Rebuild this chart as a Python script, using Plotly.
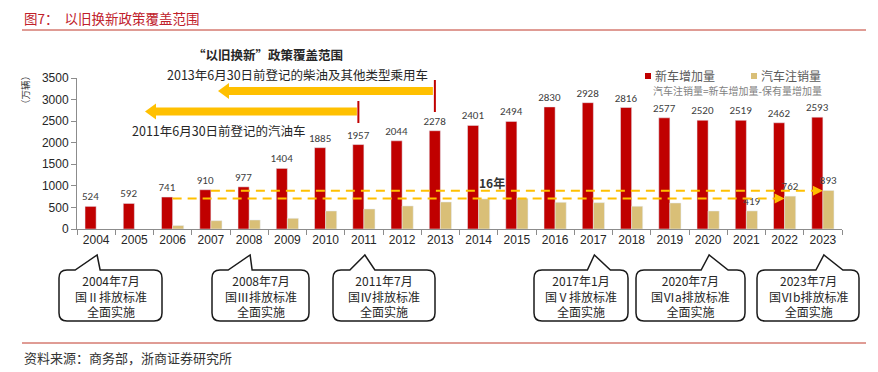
import plotly.graph_objects as go

# ---------------- data ----------------
years = [str(y) for y in range(2004, 2024)]
new_cars = [524, 592, 741, 910, 977, 1404, 1885, 1957, 2044, 2278,
            2401, 2494, 2830, 2928, 2816, 2577, 2520, 2519, 2462, 2593]
scrapped = [None, None, 80, 193, 209, 248, 418, 464, 534, 626,
            697, 712, 619, 611, 527, 603, 418, 419, 762, 893]
scrapped_labelled = ["2021", "2022", "2023"]
y_ticks = [0, 500, 1000, 1500, 2000, 2500, 3000, 3500]

# 16-year dashed guides: (start year, end year, level)
guides = [("2006", "2022", 705), ("2007", "2023", 885)]

# emission-standard callouts: (year, line1, line2, line3)
callouts = [
    ("2004", "2004年7月", "国Ⅱ排放标准", "全面实施"),
    ("2008", "2008年7月", "国Ⅲ排放标准", "全面实施"),
    ("2011", "2011年7月", "国Ⅳ排放标准", "全面实施"),
    ("2017", "2017年1月", "国Ⅴ排放标准", "全面实施"),
    ("2020", "2020年7月", "国Ⅵa排放标准", "全面实施"),
    ("2023", "2023年7月", "国Ⅵb排放标准", "全面实施"),
]

RED = "#C00000"
TAN = "#D9BF77"
ORANGE = "#FFC000"
CJK = "Noto Sans CJK SC"
NUM = "Liberation Sans, Arial"

# ---------------- geometry (viewport pixels) ----------------
VW, VH = 878, 372
BODY = 8                      # default page margin around the plot div
W, H = VW - BODY, VH - BODY   # figure size so it fills the window exactly
PL, PR, PT, PB = 77, 842, 78, 229   # plot area in viewport pixels
L, R, T, B = PL - BODY, VW - PR, PT - BODY, VH - PB
PW, PH = PR - PL, PB - PT


def X(px):
    return (px - PL) / PW


def Y(py):
    return (PB - py) / PH


def cx(i):
    return PL + (i + 0.5) * PW / len(years)


def ann(px, py, text, size, color, family=CJK, xanchor="center", **kw):
    return dict(x=X(px), y=Y(py), xref="paper", yref="paper", xanchor=xanchor,
                yanchor="middle", showarrow=False, text=text,
                font=dict(size=size, color=color, family=family), **kw)


fig = go.Figure()

fig.add_trace(go.Bar(
    x=years, y=new_cars, name="新车增加量", marker_color=RED,
    text=[str(v) for v in new_cars], textposition="outside",
    constraintext="none", textangle=0, cliponaxis=False,
    textfont=dict(size=11, color="#404040", family="Carlito, Lato, sans-serif"),
))
fig.add_trace(go.Bar(
    x=years, y=scrapped, name="汽车注销量", marker_color=TAN,
    text=[str(v) if (y in scrapped_labelled and v is not None) else "" for y, v in zip(years, scrapped)],
    textposition="outside", constraintext="none", textangle=0, cliponaxis=False,
    textfont=dict(size=11, color="#404040", family="Carlito, Lato, sans-serif"),
))

shapes = []
annotations = []

# dashed 16-year guides with arrow heads
for y0, y1, lvl in guides:
    i0, i1 = years.index(y0), years.index(y1)
    shapes.append(dict(type="line", xref="x", yref="y", x0=i0, x1=i1 - 0.15, y0=lvl, y1=lvl,
                       line=dict(color=ORANGE, width=2, dash="9px,6px"), layer="above"))
    annotations.append(dict(x=i1, y=lvl, ax=i1 - 0.2, ay=lvl, xref="x", yref="y",
                            axref="x", ayref="y", text="", showarrow=True, arrowhead=2,
                            arrowsize=1, arrowwidth=2, arrowcolor=ORANGE))
annotations.append(dict(x=10.35, y=1075, xref="x", yref="y", text="<b>16年</b>", showarrow=False,
                        xanchor="center", yanchor="middle",
                        font=dict(size=12, color="#333333", family=CJK)))


# big yellow policy arrows
def big_arrow(tip, end, yc, head=11, half=4, hh=8):
    b = tip + head
    return ("M {0},{1} L {2},{3} L {2},{4} L {5},{4} L {5},{6} L {2},{6} L {2},{7} Z".format(
        X(tip), Y(yc), X(b), Y(yc - hh), Y(yc - half), X(end), Y(yc + half), Y(yc + hh)))


red_off = 5.5
x13 = cx(years.index("2013")) - red_off
x11 = cx(years.index("2011")) - red_off
shapes.append(dict(type="path", xref="paper", yref="paper", path=big_arrow(218, x13 - 2, 91),
                   fillcolor=ORANGE, line=dict(width=0)))
shapes.append(dict(type="path", xref="paper", yref="paper", path=big_arrow(145, x11 - 1.5, 111.5),
                   fillcolor=ORANGE, line=dict(width=0)))
shapes.append(dict(type="line", xref="paper", yref="paper", x0=X(x13), x1=X(x13), y0=Y(80), y1=Y(112),
                   line=dict(color=RED, width=2)))
shapes.append(dict(type="line", xref="paper", yref="paper", x0=X(x11), x1=X(x11), y0=Y(101), y1=Y(123),
                   line=dict(color=RED, width=2)))
annotations.append(ann(297, 74, "2013年6月30日前登记的柴油及其他类型乘用车", 12.5, "#262626"))
annotations.append(ann(219, 130, "2011年6月30日前登记的汽油车", 12.5, "#262626"))
annotations.append(ann(268, 54, "<b>“以旧换新”政策覆盖范围</b>", 12.5, "#262626"))

# manual legend
for sx, tx, col, name in [(645, 653, RED, "新车增加量"), (751, 759, TAN, "汽车注销量")]:
    shapes.append(dict(type="rect", xref="paper", yref="paper", x0=X(sx), x1=X(sx + 6),
                       y0=Y(79), y1=Y(73), fillcolor=col, line=dict(width=0)))
    annotations.append(ann(tx, 76, name, 12, "#595959", xanchor="left"))
annotations.append(ann(737, 90, "汽车注销量=新车增加量-保有量增加量", 10, "#7f7f7f"))

# y-axis unit
annotations.append(ann(25, 90, "（万辆）", 9.5, "#404040", textangle=-90))

# callout boxes
offs = {"2004": (-22, 3), "2008": (-22, 2), "2011": (-15, 10),
        "2017": (-7, 16), "2020": (-8, 19), "2023": (-8, 19)}
boxx = {"2004": (59, 162), "2008": (212, 309), "2011": (333, 435),
        "2017": (534, 628), "2020": (636, 745), "2023": (757, 859)}
top, bot, apy, r = 270, 321, 255, 8
for yr, l1, l2, l3 in callouts:
    ap = cx(years.index(yr)) + 1
    bl, br = ap + offs[yr][0], ap + offs[yr][1]
    x0, x1 = boxx[yr]
    p = (f"M {X(x0 + r)},{Y(top)} L {X(bl)},{Y(top)} L {X(ap)},{Y(apy)} L {X(br)},{Y(top)} "
         f"L {X(x1 - r)},{Y(top)} Q {X(x1)},{Y(top)} {X(x1)},{Y(top + r)} "
         f"L {X(x1)},{Y(bot - r)} Q {X(x1)},{Y(bot)} {X(x1 - r)},{Y(bot)} "
         f"L {X(x0 + r)},{Y(bot)} Q {X(x0)},{Y(bot)} {X(x0)},{Y(bot - r)} "
         f"L {X(x0)},{Y(top + r)} Q {X(x0)},{Y(top)} {X(x0 + r)},{Y(top)} Z")
    shapes.append(dict(type="path", xref="paper", yref="paper", path=p,
                       fillcolor="white", line=dict(color="#1a1a1a", width=1.5)))
    annotations.append(ann((x0 + x1) / 2, 296, f"{l1}<br>{l2}<br>{l3}", 12, "#262626"))

# header / footer
annotations.append(ann(22, 18, "图7：  以旧换新政策覆盖范围", 13.5, "#C0202A", xanchor="left"))
annotations.append(ann(22, 357, "资料来源：商务部，浙商证券研究所", 13, "#333333", xanchor="left"))
for ly in (30, 343):
    shapes.append(dict(type="line", xref="paper", yref="paper", x0=X(22), x1=X(866),
                       y0=Y(ly), y1=Y(ly), line=dict(color="#C0392B", width=1)))

fig.update_layout(
    width=W, height=H, margin=dict(l=L, r=R, t=T, b=B, pad=0),
    paper_bgcolor="white", plot_bgcolor="white",
    barmode="group", bargap=0.42, bargroupgap=0, showlegend=False,
    shapes=shapes, annotations=annotations,
    xaxis=dict(type="category", range=[-0.5, len(years) - 0.5], showline=True,
               linecolor="#8c8c8c", linewidth=1, ticks="outside", tickson="boundaries",
               ticklen=5, tickcolor="#8c8c8c", showgrid=False,
               tickfont=dict(size=12, color="#262626", family=NUM)),
    yaxis=dict(range=[0, 3500], tickvals=y_ticks, showline=True, linecolor="#8c8c8c",
               linewidth=1, ticks="outside", ticklen=5, tickcolor="#8c8c8c",
               showgrid=False, zeroline=False,
               tickfont=dict(size=12, color="#262626", family=NUM)),
)

fig.write_html("out.html")
